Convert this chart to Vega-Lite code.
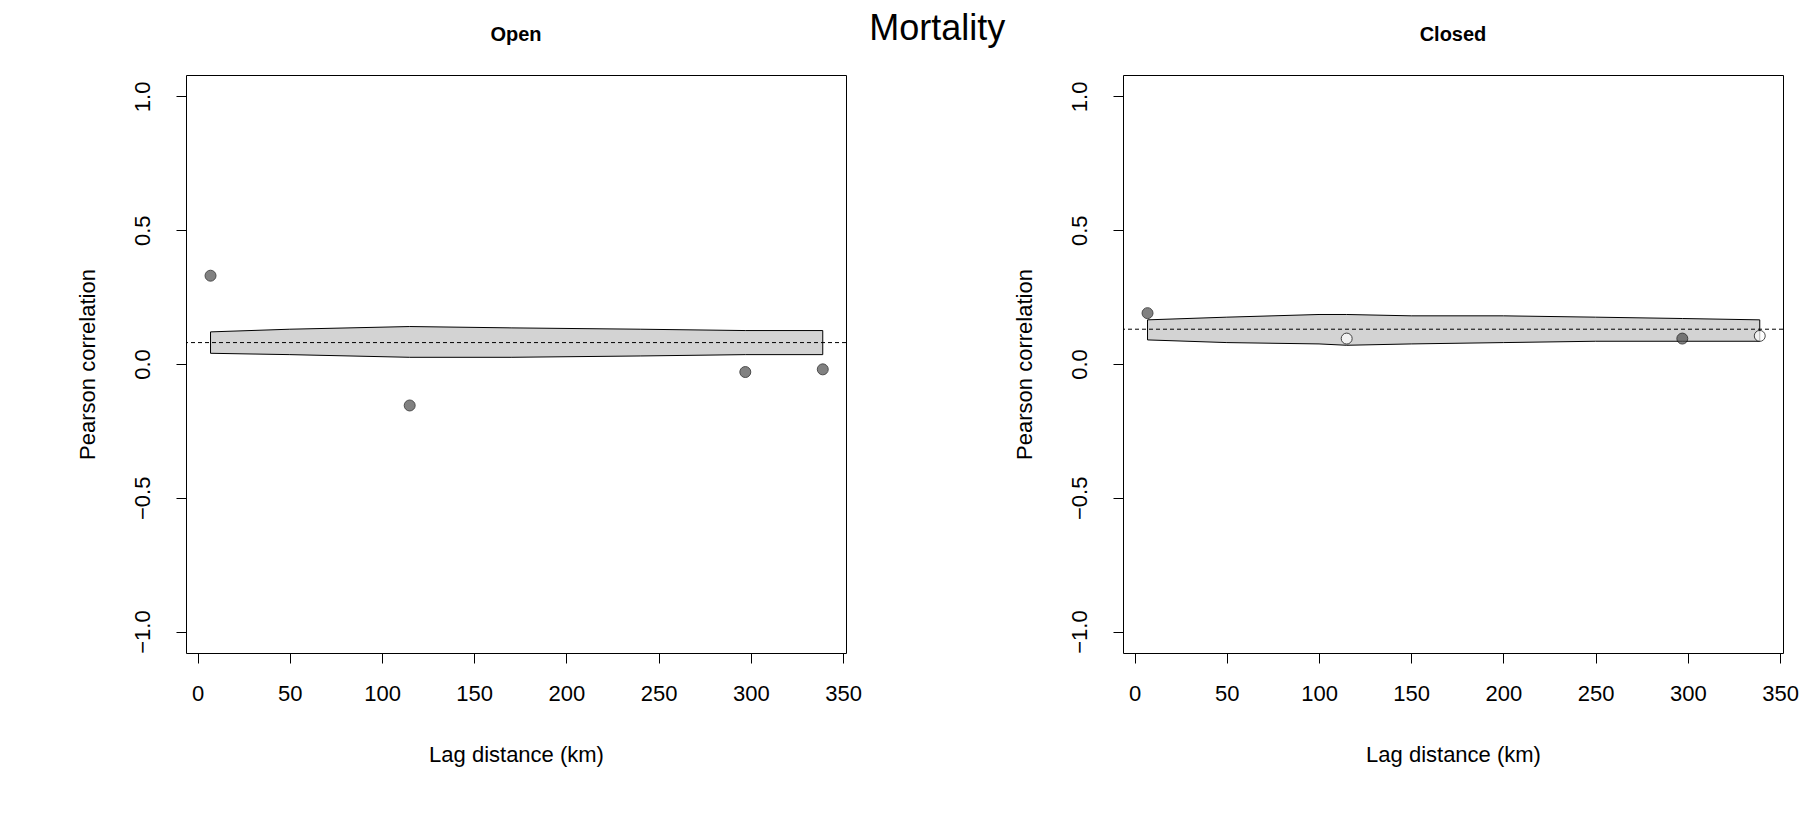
{
"$schema":"https://vega.github.io/schema/vega-lite/v6.json",
"background":"white",
"padding":{"left":75,"top":10,"right":10,"bottom":10},
"title":{"text":"Mortality","fontSize":36,"font":"Liberation Sans","fontWeight":"normal","anchor":"middle","offset":-5,"dy":18},
"config":{"view":{"stroke":"black","strokeWidth":1},"font":"Liberation Sans",
"axis":{"grid":false,"domain":false,"labelFont":"Liberation Sans","titleFont":"Liberation Sans","labelFontSize":22,"titleFontSize":22,"titleFontWeight":"normal","labelColor":"black","titleColor":"black","tickColor":"black","tickSize":10,"labelPadding":12},
"title":{"font":"Liberation Sans"}},
"datasets":{
"env":[
{"panel":"Open","x":7,"lo":0.04,"hi":0.12},{"panel":"Open","x":50,"lo":0.035,"hi":0.13},{"panel":"Open","x":115,"lo":0.025,"hi":0.14},{"panel":"Open","x":170,"lo":0.025,"hi":0.135},{"panel":"Open","x":240,"lo":0.03,"hi":0.13},{"panel":"Open","x":297,"lo":0.035,"hi":0.125},{"panel":"Open","x":339,"lo":0.035,"hi":0.125},
{"panel":"Closed","x":7,"lo":0.09,"hi":0.165},{"panel":"Closed","x":50,"lo":0.08,"hi":0.175},{"panel":"Closed","x":100,"lo":0.075,"hi":0.185},{"panel":"Closed","x":115,"lo":0.07,"hi":0.185},{"panel":"Closed","x":150,"lo":0.075,"hi":0.18},{"panel":"Closed","x":200,"lo":0.08,"hi":0.18},{"panel":"Closed","x":250,"lo":0.085,"hi":0.175},{"panel":"Closed","x":297,"lo":0.085,"hi":0.17},{"panel":"Closed","x":339,"lo":0.085,"hi":0.165}],
"pts":[
{"panel":"Open","x":7,"r":0.33,"sig":"yes"},{"panel":"Open","x":115,"r":-0.155,"sig":"yes"},{"panel":"Open","x":297,"r":-0.03,"sig":"yes"},{"panel":"Open","x":339,"r":-0.02,"sig":"yes"},
{"panel":"Closed","x":7,"r":0.19,"sig":"yes"},{"panel":"Closed","x":115,"r":0.095,"sig":"no"},{"panel":"Closed","x":297,"r":0.095,"sig":"yes"},{"panel":"Closed","x":339,"r":0.105,"sig":"no"}],
"mean":[{"panel":"Open","m":0.08},{"panel":"Closed","m":0.13}]
},
"spacing":150,
"hconcat":[
{"title":{"text":"Open","fontSize":20,"fontWeight":"bold","offset":30},"width":660,"height":578,
"layer":[
{"data":{"name":"env"},"transform":[{"filter":"datum.panel==='Open'"}],"mark":{"type":"area","fill":"#d3d3d3","stroke":"black","strokeWidth":1},
"encoding":{"x":{"field":"x","type":"quantitative","scale":{"domain":[-6.3,351.6],"nice":false,"zero":false},"axis":{"values":[0,50,100,150,200,250,300,350],"title":"Lag distance (km)","titlePadding":40,"labelPadding":20}},
"y":{"field":"lo","type":"quantitative","scale":{"domain":[-1.08,1.08],"nice":false},"axis":{"values":[-1,-0.5,0,0.5,1],"format":".1f","labelAngle":-90,"labelAlign":"center","labelBaseline":"bottom","labelPadding":22,"title":"Pearson correlation","titlePadding":32}},"y2":{"field":"hi"}}},
{"data":{"name":"mean"},"transform":[{"filter":"datum.panel==='Open'"}],"mark":{"type":"rule","strokeDash":[4,3],"color":"black","strokeWidth":1},"encoding":{"y":{"field":"m","type":"quantitative"}}},
{"data":{"name":"pts"},"transform":[{"filter":"datum.panel==='Open'"}],"mark":{"type":"point","filled":true,"size":120,"stroke":"black","strokeWidth":1},
"encoding":{"x":{"field":"x","type":"quantitative"},"y":{"field":"r","type":"quantitative"},"fill":{"field":"sig","type":"nominal","scale":{"domain":["yes","no"],"range":["#4d4d4d","white"]},"legend":null}}}
]},
{"title":{"text":"Closed","fontSize":20,"fontWeight":"bold","offset":30},"width":660,"height":578,
"layer":[
{"data":{"name":"env"},"transform":[{"filter":"datum.panel==='Closed'"}],"mark":{"type":"area","fill":"#d3d3d3","stroke":"black","strokeWidth":1},
"encoding":{"x":{"field":"x","type":"quantitative","scale":{"domain":[-6.3,351.6],"nice":false,"zero":false},"axis":{"values":[0,50,100,150,200,250,300,350],"title":"Lag distance (km)","titlePadding":40,"labelPadding":20}},
"y":{"field":"lo","type":"quantitative","scale":{"domain":[-1.08,1.08],"nice":false},"axis":{"values":[-1,-0.5,0,0.5,1],"format":".1f","labelAngle":-90,"labelAlign":"center","labelBaseline":"bottom","labelPadding":22,"title":"Pearson correlation","titlePadding":32}},"y2":{"field":"hi"}}},
{"data":{"name":"mean"},"transform":[{"filter":"datum.panel==='Closed'"}],"mark":{"type":"rule","strokeDash":[4,3],"color":"black","strokeWidth":1},"encoding":{"y":{"field":"m","type":"quantitative"}}},
{"data":{"name":"pts"},"transform":[{"filter":"datum.panel==='Closed'"}],"mark":{"type":"point","filled":true,"size":120,"stroke":"black","strokeWidth":1},
"encoding":{"x":{"field":"x","type":"quantitative"},"y":{"field":"r","type":"quantitative"},"fill":{"field":"sig","type":"nominal","scale":{"domain":["yes","no"],"range":["#4d4d4d","white"]},"legend":null}}}
]}
]
}
